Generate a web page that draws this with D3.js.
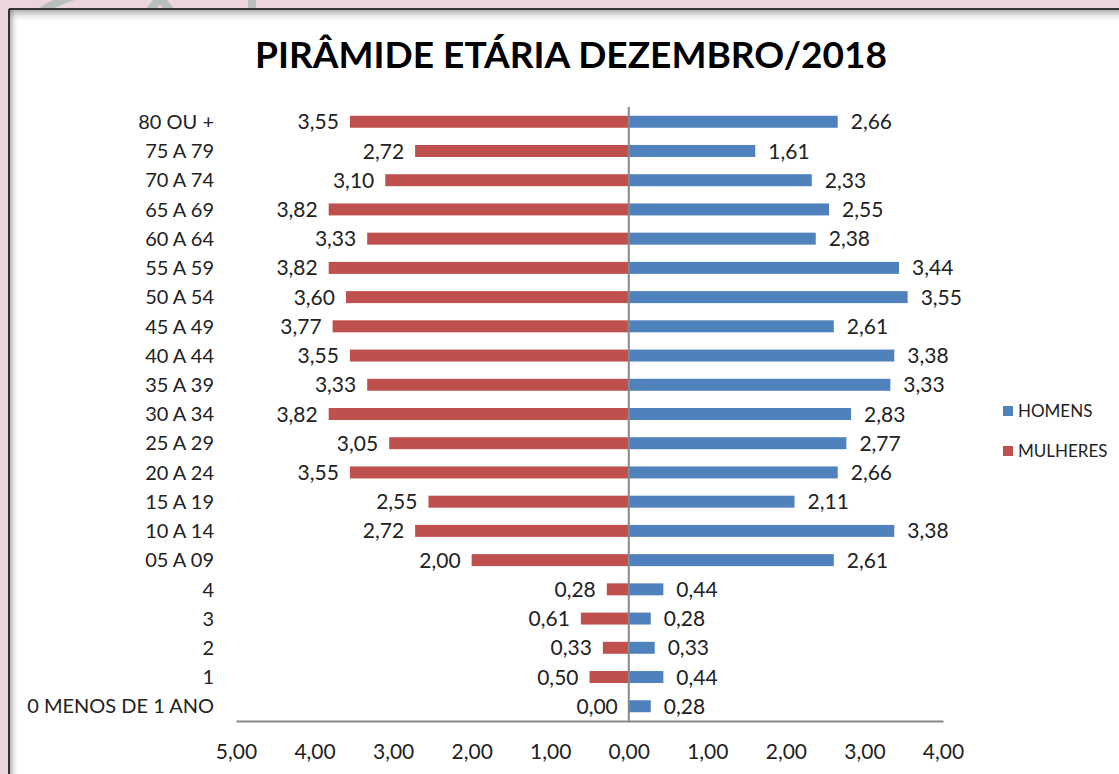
<!DOCTYPE html>
<html lang="pt">
<head>
<meta charset="UTF-8">
<script src="https://d3js.org/d3.v7.min.js"></script>
<style>
  body { margin: 0; overflow: hidden; }
  text { font-family: Lato, "Open Sans", sans-serif; }
</style>
</head>
<body>
<svg width="1119" height="774" id="chart"></svg>
<script>
// age groups, top to bottom
const faixas = ["80 OU +", "75 A 79", "70 A 74", "65 A 69", "60 A 64", "55 A 59", "50 A 54",
  "45 A 49", "40 A 44", "35 A 39", "30 A 34", "25 A 29", "20 A 24", "15 A 19", "10 A 14",
  "05 A 09", "4", "3", "2", "1", "0 MENOS DE 1 ANO"];
const homens = [2.66, 1.61, 2.33, 2.55, 2.38, 3.44, 3.55, 2.61, 3.38, 3.33, 2.83, 2.77, 2.66,
  2.11, 3.38, 2.61, 0.44, 0.28, 0.33, 0.44, 0.28];
const mulheres = [3.55, 2.72, 3.10, 3.82, 3.33, 3.82, 3.60, 3.77, 3.55, 3.33, 3.82, 3.05, 3.55,
  2.55, 2.72, 2.00, 0.28, 0.61, 0.33, 0.50, 0.00];
const ticksX = [-5, -4, -3, -2, -1, 0, 1, 2, 3, 4];
const series = ["HOMENS", "MULHERES"];

const corH = "#4f81bd", corM = "#c0504d";
const svg = d3.select("#chart");
const fmt = v => Math.abs(v).toFixed(2).replace(".", ",");

// background / frame
const defs = svg.append("defs");
const gTop = defs.append("linearGradient").attr("id", "shTop").attr("x1", 0).attr("x2", 0).attr("y1", 0).attr("y2", 1);
gTop.append("stop").attr("offset", 0).attr("stop-color", "#555").attr("stop-opacity", 0.55);
gTop.append("stop").attr("offset", 1).attr("stop-color", "#fff").attr("stop-opacity", 0);
const gLeft = defs.append("linearGradient").attr("id", "shLeft").attr("x1", 0).attr("x2", 1).attr("y1", 0).attr("y2", 0);
gLeft.append("stop").attr("offset", 0).attr("stop-color", "#555").attr("stop-opacity", 0.55);
gLeft.append("stop").attr("offset", 1).attr("stop-color", "#fff").attr("stop-opacity", 0);

svg.append("rect").attr("width", 1119).attr("height", 774).attr("fill", "#ecd6de");
const deco = svg.append("g").attr("fill", "none").attr("stroke", "#b9bfbf").attr("stroke-width", 8);
deco.append("path").attr("d", "M 40 12 A 140 140 0 0 1 120 -10");
deco.append("path").attr("d", "M 150 10 L 160 -2 L 170 10");
deco.append("path").attr("d", "M 252 -5 L 252 10");
svg.append("rect").attr("x", 9).attr("y", 9).attr("width", 1120).attr("height", 770).attr("fill", "#fff");
svg.append("rect").attr("x", 9).attr("y", 9).attr("width", 1120).attr("height", 14).attr("fill", "url(#shTop)");
svg.append("rect").attr("x", 9).attr("y", 9).attr("width", 10).attr("height", 770).attr("fill", "url(#shLeft)");
svg.append("line").attr("x1", 9).attr("x2", 1119).attr("y1", 9).attr("y2", 9).attr("stroke", "#333").attr("stroke-width", 2);
svg.append("line").attr("x1", 9).attr("x2", 9).attr("y1", 9).attr("y2", 774).attr("stroke", "#333").attr("stroke-width", 2);

// title
svg.append("text")
  .attr("x", 571).attr("y", 68)
  .attr("text-anchor", "middle")
  .attr("textLength", 632).attr("lengthAdjust", "spacingAndGlyphs")
  .style("font-size", "37px").style("font-weight", "bold")
  .text("PIRÂMIDE ETÁRIA DEZEMBRO/2018");

// scales
const x = d3.scaleLinear().domain([-5, 4]).range([236, 943]);
const y = d3.scaleBand().domain(faixas).range([107, 721]).paddingInner(0.59).paddingOuter(0.3);

// bars
svg.append("g").selectAll("rect").data(faixas).join("rect")
  .attr("x", (d, i) => x(-mulheres[i]))
  .attr("y", d => y(d))
  .attr("width", (d, i) => x(0) - x(-mulheres[i]))
  .attr("height", y.bandwidth())
  .attr("fill", corM);

svg.append("g").selectAll("rect").data(faixas).join("rect")
  .attr("x", x(0))
  .attr("y", d => y(d))
  .attr("width", (d, i) => x(homens[i]) - x(0))
  .attr("height", y.bandwidth())
  .attr("fill", corH);

// value labels
svg.append("g").selectAll("text").data(faixas).join("text")
  .attr("x", (d, i) => x(-mulheres[i]) - 11)
  .attr("y", d => y(d) + y.bandwidth() / 2)
  .attr("dy", "0.36em")
  .attr("text-anchor", "end")
  .style("font-size", "21px").attr("fill", "#222")
  .text((d, i) => fmt(mulheres[i]));

svg.append("g").selectAll("text").data(faixas).join("text")
  .attr("x", (d, i) => x(homens[i]) + 13)
  .attr("y", d => y(d) + y.bandwidth() / 2)
  .attr("dy", "0.36em")
  .style("font-size", "21px").attr("fill", "#222")
  .text((d, i) => fmt(homens[i]));

// category labels
svg.append("g").selectAll("text").data(faixas).join("text")
  .attr("x", 214)
  .attr("y", d => y(d) + y.bandwidth() / 2)
  .attr("dy", "0.36em")
  .attr("text-anchor", "end")
  .style("font-size", "20px").attr("fill", "#222")
  .text(d => d);

// axes
const xAxis = svg.append("g")
  .attr("transform", "translate(0,721)")
  .call(d3.axisBottom(x).tickValues(ticksX).tickSize(0).tickPadding(23).tickFormat(fmt));
xAxis.select(".domain").attr("stroke", "#888").attr("stroke-width", 2);
xAxis.selectAll("text").style("font-size", "21px").attr("fill", "#222")
  .style("font-family", "Lato, 'Open Sans', sans-serif");

svg.append("line")
  .attr("x1", x(0)).attr("x2", x(0)).attr("y1", 107).attr("y2", 721)
  .attr("stroke", "#888").attr("stroke-width", 2);

// legend
const leg = svg.append("g").selectAll("g").data(series).join("g")
  .attr("transform", (d, i) => "translate(1003," + (411 + i * 40) + ")");
leg.append("rect").attr("x", 0).attr("y", -5).attr("width", 10).attr("height", 10)
  .attr("fill", (d, i) => i === 0 ? corH : corM);
leg.append("text").attr("x", 15).attr("dy", "0.36em")
  .style("font-size", "17px").attr("fill", "#222")
  .text(d => d);
</script>
</body>
</html>
